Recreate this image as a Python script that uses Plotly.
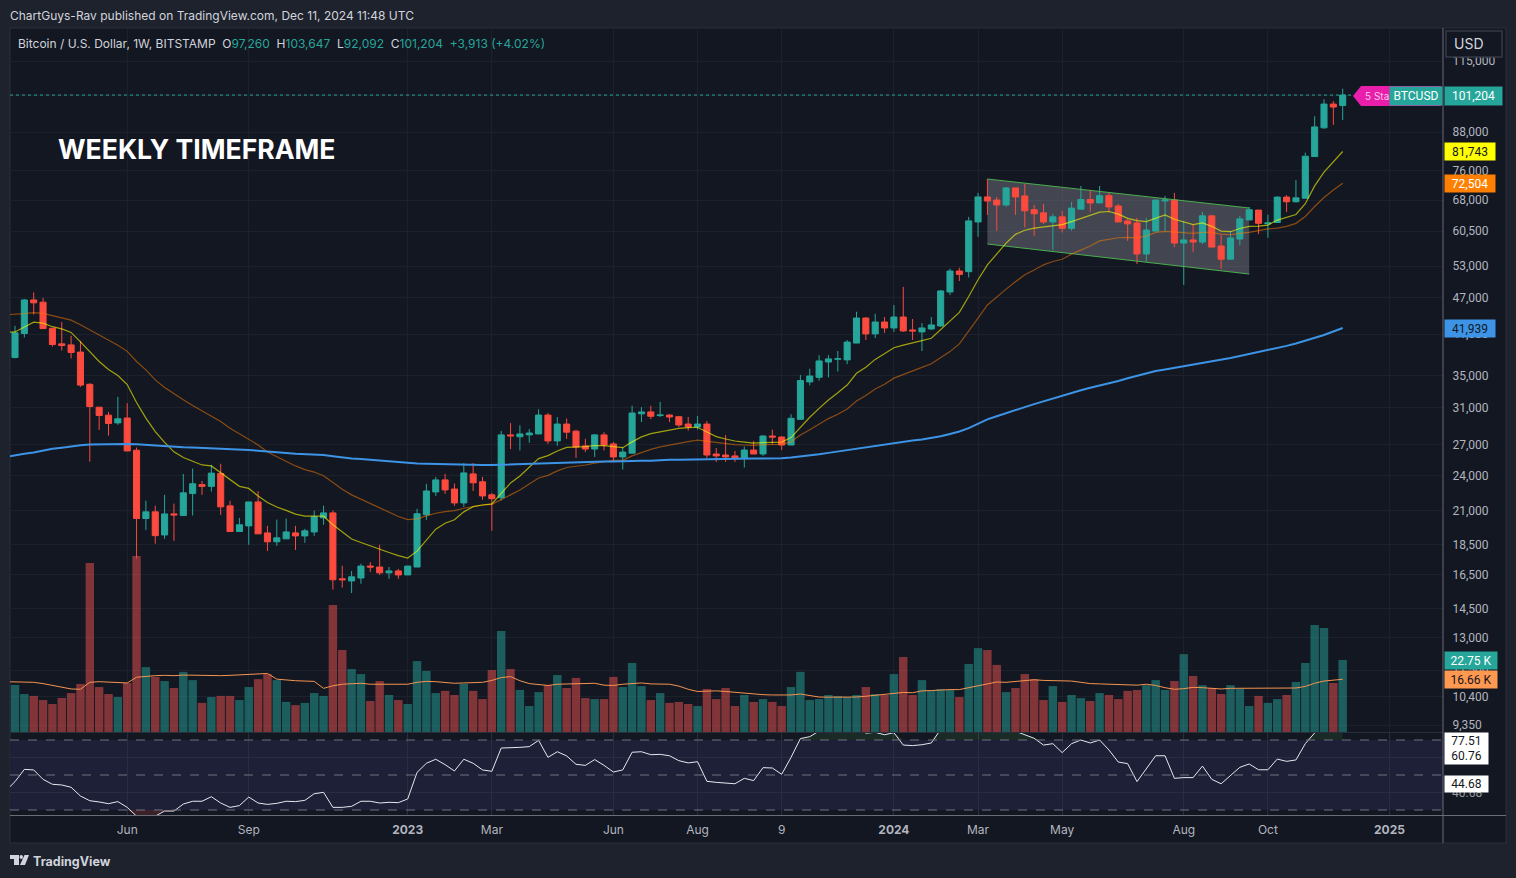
import math
import pandas as pd
import plotly.graph_objs as go

# Weekly BTCUSD candles
opens = [37520,41080,46640,46240,41900,39500,39350,38290,33900,31090,
    30170,29300,29840,26420,20410,20930,19180,20770,20640,22430,
    23200,23050,24200,21410,19430,19850,21730,19330,18690,18900,
    19330,19110,19400,20460,20850,16250,16120,16300,17050,16990,
    16620,16740,16490,16990,20700,22570,23620,22820,21650,24160,
    23450,22320,22080,28000,27800,28000,28100,30180,27370,29170,
    28400,26860,26540,28000,27060,25760,26130,30320,30540,30120,
    30180,29990,29170,28860,29170,26050,25950,25860,25660,26440,
    26050,27880,27770,26950,29700,34210,34810,36880,37280,37180,
    39620,43550,41020,42900,41950,43720,41630,41330,41790,42270,
    48070,52030,51900,62630,68850,68050,66790,71230,69110,65600,
    64820,62630,63850,61130,65730,68180,67300,69180,66540,62880,
    62400,55490,60500,67800,68050,57830,58510,58050,64090,57190,
    54410,58720,63110,65500,62200,62500,68800,67600,68500,80200,
    89400,97800,97260]
highs = [42290,46810,47990,46990,41950,42880,40730,39950,34040,31090,
    30540,32320,31570,26690,21830,21420,22320,21590,24150,24650,
    23520,25000,25100,21830,20460,21730,22630,19850,20330,20410,
    19850,19630,21030,21420,21030,17070,16740,17200,17310,18480,
    16990,16870,17050,21170,23270,23890,24160,23300,25170,25170,
    23890,22490,28430,29270,29030,28620,30850,30410,29950,29780,
    28550,27580,28100,28290,27260,26750,31260,31100,31260,31720,
    30280,30060,29960,30080,29500,26650,27980,26350,26790,27370,
    27980,28560,27880,30270,35130,35960,37850,37850,38450,40080,
    44590,43720,44250,43720,45750,48990,43390,42740,43720,48430,
    52500,52690,63850,69920,73670,68850,71490,71230,72300,66790,
    67040,64590,65320,67550,71760,70700,71760,69960,67040,63360,
    63600,63600,68050,69100,69920,62880,61970,65040,64330,59640,
    60560,64090,66290,65500,64400,69000,69300,73380,81400,93400,
    99600,98900,103647]
lows = [37400,40470,44120,41800,39100,38530,37380,33570,25310,28530,
    27930,29090,26380,17540,19550,18550,18900,18760,20640,20640,
    22320,22600,20690,19430,19430,18480,19260,18050,18410,18900,
    18120,18620,19110,19930,15600,15720,15400,15950,16680,16490,
    16250,16250,16490,16990,20300,22230,22400,21410,21320,22650,
    21910,19480,21840,26540,26400,27180,28100,27060,26870,27580,
    25660,26240,25760,26400,25260,24560,26130,29390,29720,29960,
    29390,28830,28450,28560,25660,25280,25280,25280,24750,26050,
    25860,27060,26440,26950,29700,33760,34380,34810,35580,36580,
    39620,40080,40380,41180,41330,41330,40080,38450,41630,42120,
    47530,50100,50770,59190,64330,60550,66380,64330,61350,59410,
    62170,56340,60200,60560,65730,65060,67300,65060,62630,58300,
    53410,53980,60500,60500,56950,49370,55930,57600,56950,52440,
    54410,57340,63110,59800,59000,62500,65000,67400,68500,80200,
    89100,90400,92092]
closes = [41180,46640,46130,41850,39400,39250,38240,33800,31170,30130,
    29240,29760,26350,20410,20930,19130,20770,20690,22490,23280,
    23050,24230,21330,19430,19930,21730,19260,18690,18970,19400,
    19110,19480,20540,20850,16190,16190,16370,17050,16990,16620,
    16740,16490,17050,20780,22650,23620,22740,21650,24250,23360,
    22230,22000,28000,27900,28100,28200,30180,27370,29170,28290,
    26750,26540,28000,26950,25760,26240,30410,30540,30040,30180,
    29960,29070,28860,29170,25950,25860,25760,25660,26440,26050,
    27880,27770,26950,29810,34380,34980,37030,37320,37340,39770,
    43550,41020,42900,41950,43720,41480,41480,41950,42430,48250,
    52030,51370,62880,68850,67800,66790,71230,68850,65320,64590,
    62630,63850,61130,65990,68180,67300,69180,66290,62630,62170,
    55490,60740,68050,68050,57830,58510,58050,64090,56950,54410,
    58960,63360,65600,62300,62400,68800,67600,68600,80300,89700,
    97800,96700,101204]

# Volume in thousands
volumes = [14.85,12.0,11.4,10.1,8.85,10.75,12.3,15.2,53.4,14.2,
    12.0,11.05,15.5,55.6,20.5,17.4,16.1,13.9,19.0,16.4,
    9.2,11.05,11.4,11.4,10.1,14.2,16.7,18.3,16.4,9.5,
    8.5,9.2,12.3,11.4,40.1,25.9,19.9,18.3,9.8,16.1,
    11.7,10.1,8.85,22.4,19.3,12.3,13.0,11.7,15.2,13.0,
    10.4,19.6,31.9,19.9,13.3,8.2,12.6,14.8,18.0,13.9,
    17.1,10.7,10.4,10.4,17.4,14.2,21.8,14.5,10.1,12.3,
    9.2,9.5,8.85,8.2,13.6,10.4,13.9,8.2,11.7,9.5,
    10.4,9.5,8.2,14.2,19.0,10.1,10.4,11.7,11.4,11.05,
    11.7,14.2,12.0,11.7,18.3,23.7,11.7,16.4,13.0,13.6,
    13.3,11.05,21.5,26.5,25.9,21.2,12.6,13.9,18.3,16.7,
    10.1,14.5,9.5,11.7,10.7,9.8,12.3,11.7,10.4,13.0,
    13.3,14.8,16.4,13.3,16.1,24.6,17.7,14.8,13.9,12.0,
    14.8,13.6,8.2,11.4,9.2,10.4,11.7,15.8,21.8,33.8,
    32.9,15.5,22.75]

# The indicator lists start one week earlier, they run in from off the left edge
volume_ma = [15.9,
    15.9,15.8,15.7,15.3,14.7,14.1,13.6,13.5,15.7,15.9,
    15.8,15.6,15.5,17.3,17.6,17.8,17.9,17.8,18.0,17.9,
    17.8,17.8,17.8,17.9,18.1,18.3,18.5,18.5,16.7,16.4,
    16.2,16.1,16.0,13.8,14.6,15.1,15.3,15.4,15.1,15.1,
    15.1,15.1,15.1,15.7,16.0,15.9,15.6,15.4,15.5,15.5,
    15.7,16.3,17.2,17.5,16.2,15.3,15.0,14.7,15.1,15.2,
    15.4,15.4,15.4,14.8,14.7,15.1,15.4,15.5,15.2,15.2,
    15.1,14.5,13.5,12.8,13.0,13.0,12.8,12.5,12.3,12.1,
    11.8,11.7,11.6,11.7,12.0,11.6,11.05,11.0,11.0,11.0,
    11.05,11.3,11.6,11.7,12.0,12.5,12.4,13.0,13.1,13.3,
    13.4,13.4,14.0,14.6,15.1,15.8,15.7,15.9,16.3,16.5,
    16.3,16.2,16.1,16.1,15.7,15.3,15.2,15.1,15.0,14.8,
    14.8,15.1,14.7,14.0,13.5,13.7,14.1,14.0,13.7,13.6,
    13.8,13.8,13.8,13.7,13.7,13.7,13.7,13.9,14.4,15.4,
    16.1,16.4,16.66]
ma_yellow = [41300,
    41320,42090,42880,42730,42150,41800,41250,39810,38400,36950,
    35850,35040,33870,31650,29840,28350,27210,26260,25700,25310,
    24990,24900,24260,23620,23050,22870,22230,21690,21320,21050,
    20750,20600,20590,20590,19930,19430,18890,18640,18390,18160,
    17950,17740,17580,18040,18820,19600,20050,20310,20930,21350,
    21480,21570,22440,23350,23970,24780,25600,25890,26350,26710,
    26710,26780,26900,26880,26780,26680,27270,27790,28130,28320,
    28570,28700,28780,28820,28300,27820,27570,27360,27250,27150,
    27190,27220,27250,27720,28820,29930,30950,31950,32840,33800,
    35340,36160,37250,38040,38930,39310,39690,39990,40340,41730,
    43040,44500,47250,50340,53260,55500,57800,59760,60700,61180,
    61400,61700,62000,62700,63400,64100,65000,65150,64500,63500,
    62950,62700,63500,64300,63270,62550,61990,62400,61600,60500,
    60360,61100,61600,61650,61900,63080,63700,64430,67100,71780,
    75600,78700,81743]
ma_orange = [44100,
    44150,44280,44460,44340,43950,43580,43210,42450,41640,40770,
    40100,39300,38400,36950,35810,34470,33500,32700,31970,31280,
    30670,30130,29450,28710,28100,27570,26960,26240,25760,25310,
    24900,24550,24330,24000,23400,22800,22320,21960,21560,21220,
    20880,20570,20330,20380,20610,20820,20950,21030,21220,21380,
    21480,21530,21900,22320,22740,23230,23790,24030,24440,24750,
    24860,24990,25170,25330,25430,25430,25860,26180,26510,26760,
    26960,27150,27300,27440,27330,27190,27090,26990,26950,26920,
    26990,27020,27020,27300,28000,28560,29150,29780,30270,30880,
    31830,32500,33300,33920,34700,35210,35700,36150,36630,37480,
    38360,39500,41380,43550,45750,47200,48580,49950,51300,52240,
    53260,53940,54400,55450,56300,57200,58300,58700,59000,59100,
    58950,59400,60200,60450,60300,60050,59980,60200,60200,59820,
    59670,59980,60200,60600,61000,61200,61600,62300,63940,66400,
    68700,70650,72504]
ma_blue = [25760,
    25940,26070,26200,26400,26570,26680,26820,26930,26990,27020,
    27050,27050,27050,27020,26950,26890,26820,26790,26720,26690,
    26660,26630,26600,26530,26500,26440,26370,26270,26200,26140,
    26070,26040,26000,25940,25830,25710,25610,25560,25480,25400,
    25300,25260,25160,25130,25100,25070,25070,25040,25010,25010,
    24980,24980,25010,25070,25100,25130,25160,25190,25220,25220,
    25240,25260,25300,25320,25320,25320,25350,25380,25400,25470,
    25490,25500,25520,25550,25550,25580,25580,25580,25580,25610,
    25610,25610,25640,25710,25800,25900,26030,26160,26300,26430,
    26560,26700,26830,27000,27130,27270,27410,27510,27650,27860,
    28100,28360,28720,29170,29690,30050,30370,30730,31100,31450,
    31800,32150,32480,32810,33150,33460,33730,34000,34330,34680,
    35030,35350,35650,35860,36070,36290,36510,36730,36950,37200,
    37450,37720,38000,38300,38600,38900,39200,39550,39950,40350,
    40850,41400,41939]

# RSI pane (the line runs off the pane at both ends)
rsi = [40.9,
    46.2,53.2,52.9,47.5,44.7,44.3,43.0,38.0,35.3,34.6,
    33.6,34.8,31.5,26.5,26.5,26.5,29.4,29.4,33.4,35.0,
    35.0,37.6,34.0,31.5,32.5,37.4,34.0,33.2,33.8,35.0,
    34.8,35.5,39.3,40.1,31.5,31.5,32.1,35.0,35.0,34.0,
    34.4,34.2,36.3,51.5,56.7,59.0,55.9,52.3,59.0,56.7,
    52.9,52.1,65.4,65.4,65.8,66.2,69.8,60.1,63.3,60.9,
    56.1,55.5,58.8,55.5,51.7,52.9,63.0,63.3,61.6,61.8,
    61.0,58.2,56.9,57.6,46.4,45.8,45.4,45.0,48.1,46.8,
    54.2,54.0,50.4,60.1,70.8,71.9,75.1,75.5,75.8,77.0,
    79.0,73.9,74.4,73.0,74.2,67.1,66.8,67.3,68.3,76.0,
    80.0,80.0,83.0,85.0,86.0,82.0,78.0,75.0,72.9,71.0,
    67.1,67.9,62.8,67.9,70.0,68.3,70.0,64.3,57.4,56.5,
    46.2,53.4,61.0,61.0,48.1,48.5,48.5,55.1,47.5,45.0,
    49.8,54.4,56.3,53.0,53.0,59.1,57.8,58.6,67.9,74.0,
    78.5,77.0,77.51]

price_ticks = [115000,101000,88000,76000,68000,60500,53000,47000,41000,35000,31000,
    27000,24000,21000,18500,16500,14500,13000,11500,10400,9350]
time_ticks = ['2022-06-06','2022-09-05','2023-01-02','2023-03-06','2023-06-05','2023-08-07',
    '2023-10-09','2024-01-01','2024-03-04','2024-05-06','2024-08-05','2024-10-07','2025-01-06']
time_labels = ['Jun','Sep','<b>2023</b>','Mar','Jun','Aug','9','<b>2024</b>','Mar','May','Aug','Oct','<b>2025</b>']

# Bull flag drawn on the chart
flag_dates = ['2024-03-11','2024-09-23','2024-09-23','2024-03-11','2024-03-11']
flag_prices = [73670,66030,51440,57620,73670]

W, H = 1516, 878
FONT = 'Inter, Roboto, sans-serif'
SCALE_FONT = 'Roboto, Inter, sans-serif'
TEAL, RED = '#26a69a', '#fb4a3e'
BG, PAGE = '#131722', '#1e222d'
GRID = '#1d212c'
AXIS_TEXT = '#b2b5be'


def px(x):
    return x / W


def py(y):
    return 1 - y / H


def box(x0, y0, x1, y1):
    return f'M{px(x0)},{py(y0)} L{px(x1)},{py(y0)} L{px(x1)},{py(y1)} L{px(x0)},{py(y1)} Z'


dates = pd.date_range('2022-03-14', periods=len(closes), freq='7D')
line_dates = pd.date_range('2022-03-07', periods=len(closes) + 1, freq='7D')
week = pd.Timedelta(weeks=1)
# first candle sits 5 px in from the pane edge, candles are 9.35 px apart
x_range = [dates[0] + week * ((10 - 15) / 9.35), dates[0] + week * ((1443 - 15) / 9.35)]

# price scale: 88,000 at y=132, 264.5 px per e-fold
price_top = 88000 * math.exp((132 - 28) / 264.5)
price_bottom = 88000 * math.exp((132 - 732) / 264.5)
price_range = [math.log10(price_bottom), math.log10(price_top)]

bar_colors = ['rgba(38,166,154,0.5)' if c >= o else 'rgba(239,83,80,0.5)' for o, c in zip(opens, closes)]

fig = go.Figure()

# Flag fill goes on the bottom axis so the candles stay above it
fig.add_trace(go.Scatter(x=flag_dates, y=flag_prices, mode='lines', fill='toself',
    fillcolor='rgba(140,142,150,0.40)', line=dict(width=0), xaxis='x', yaxis='y'))

fig.add_trace(go.Bar(x=dates, y=volumes, marker=dict(color=bar_colors, line=dict(width=0)),
    xaxis='x', yaxis='y2'))
fig.add_trace(go.Scatter(x=line_dates, y=volume_ma, mode='lines', line=dict(color='#f59450', width=1),
    xaxis='x', yaxis='y2'))

fig.add_trace(go.Candlestick(x=dates, open=opens, high=highs, low=lows, close=closes,
    increasing=dict(line=dict(color=TEAL, width=1), fillcolor=TEAL),
    decreasing=dict(line=dict(color=RED, width=1), fillcolor=RED),
    whiskerwidth=0, xaxis='x', yaxis='y3'))

fig.add_trace(go.Scatter(x=flag_dates[:2], y=flag_prices[:2], mode='lines',
    line=dict(color='#4caf50', width=1), xaxis='x', yaxis='y3'))
fig.add_trace(go.Scatter(x=flag_dates[2:4], y=flag_prices[2:4], mode='lines',
    line=dict(color='#4caf50', width=1), xaxis='x', yaxis='y3'))

fig.add_trace(go.Scatter(x=line_dates, y=ma_orange, mode='lines', line=dict(color='rgba(255,127,0,0.5)', width=1.2),
    xaxis='x', yaxis='y3'))
fig.add_trace(go.Scatter(x=line_dates, y=ma_yellow, mode='lines', line=dict(color='rgba(255,255,0,0.6)', width=1.2),
    xaxis='x', yaxis='y3'))
fig.add_trace(go.Scatter(x=line_dates, y=ma_blue, mode='lines', line=dict(color='#3d94e6', width=2),
    xaxis='x', yaxis='y3'))

# Last price line
fig.add_trace(go.Scatter(x=[x_range[0], dates[-1] + week], y=[closes[-1], closes[-1]], mode='lines',
    line=dict(color=TEAL, width=1, dash='dot'), xaxis='x', yaxis='y3'))

# RSI with the overbought and oversold tint
fig.add_trace(go.Scatter(x=line_dates, y=[70] * len(rsi), mode='lines', line=dict(width=0), xaxis='x2', yaxis='y4'))
fig.add_trace(go.Scatter(x=line_dates, y=[max(r, 70) for r in rsi], mode='lines', line=dict(width=0),
    fill='tonexty', fillcolor='rgba(76,175,80,0.13)', xaxis='x2', yaxis='y4'))
fig.add_trace(go.Scatter(x=line_dates, y=[30] * len(rsi), mode='lines', line=dict(width=0), xaxis='x2', yaxis='y4'))
fig.add_trace(go.Scatter(x=line_dates, y=[min(r, 30) for r in rsi], mode='lines', line=dict(width=0),
    fill='tonexty', fillcolor='rgba(255,82,82,0.18)', xaxis='x2', yaxis='y4'))
fig.add_trace(go.Scatter(x=line_dates, y=rsi, mode='lines', line=dict(color='#e6e8ee', width=1), xaxis='x2', yaxis='y4'))

shapes = [
    # chart frame
    dict(type='path', path=box(10, 28, 1506, 843), xref='paper', yref='paper', fillcolor=BG,
         line=dict(color='#2a2e39', width=1), layer='below'),
    # RSI band and levels
    dict(type='rect', xref='x2', yref='y4', x0=x_range[0], x1=x_range[1], y0=30, y1=70,
         fillcolor='#1e2038', line=dict(width=0), layer='below'),
]
for level in [70, 50, 30]:
    shapes.append(dict(type='line', xref='x2', yref='y4', x0=x_range[0], x1=x_range[1], y0=level, y1=level,
                       line=dict(color='#70737f', width=1, dash='dash')))
for level in [60, 40]:
    shapes.append(dict(type='line', xref='x2', yref='y4', x0=x_range[0], x1=x_range[1], y0=level, y1=level,
                       line=dict(color='#2a2d42', width=1), layer='below'))
shapes += [
    # pane separators and scale borders
    dict(type='line', xref='paper', yref='paper', x0=px(10), x1=px(1443), y0=py(732.5), y1=py(732.5),
         line=dict(color='#2a2e39', width=1)),
    dict(type='line', xref='paper', yref='paper', x0=px(10), x1=px(1506), y0=py(815.5), y1=py(815.5),
         line=dict(color='#6a6d78', width=1)),
    dict(type='line', xref='paper', yref='paper', x0=px(1443), x1=px(1443), y0=py(28), y1=py(843),
         line=dict(color='#6a6d78', width=1)),
    # USD button
    dict(type='path', path=box(1446, 31, 1502, 57), xref='paper', yref='paper', fillcolor=BG,
         line=dict(color='#363a45', width=1.5)),
    # alert flag
    dict(type='path', xref='paper', yref='paper', fillcolor='#e91eaa', line=dict(width=0),
         path=f'M{px(1353)},{py(96)} L{px(1361)},{py(86)} L{px(1441)},{py(86)} L{px(1441)},{py(106)} L{px(1361)},{py(106)} Z'),
    # TradingView mark
    dict(type='path', xref='paper', yref='paper', fillcolor='#d1d4dc', line=dict(width=0),
         path=f'M{px(10)},{py(855)} L{px(19)},{py(855)} L{px(19)},{py(865)} L{px(14)},{py(865)} L{px(14)},{py(859)} L{px(10)},{py(859)} Z'),
    dict(type='circle', xref='paper', yref='paper', x0=px(19.5), x1=px(23), y0=py(855), y1=py(859),
         fillcolor='#d1d4dc', line=dict(width=0)),
    dict(type='path', xref='paper', yref='paper', fillcolor='#d1d4dc', line=dict(width=0),
         path=f'M{px(24.5)},{py(855)} L{px(29)},{py(855)} L{px(25)},{py(865)} L{px(20)},{py(865)} Z'),
]


def label(text, x, y, color='#d1d4dc', size=12, anchor='left', family=FONT):
    return dict(text=text, x=px(x), y=py(y), xref='paper', yref='paper', xanchor=anchor, yanchor='middle',
                showarrow=False, font=dict(family=family, size=size, color=color))


def scale_box(text, y, bg, color, x0=1444, width=50, height=17):
    return dict(text=text, x=px(x0), y=py(y), xref='paper', yref='paper', xanchor='left', yanchor='middle',
                showarrow=False, width=width, height=height, bgcolor=bg, borderpad=0, align='center',
                font=dict(family=SCALE_FONT, size=12, color=color))


up = TEAL
legend = (f'Bitcoin / U.S. Dollar, 1W, BITSTAMP  O<span style="color:{up}">97,260</span>  '
          f'H<span style="color:{up}">103,647</span>  L<span style="color:{up}">92,092</span>  '
          f'C<span style="color:{up}">101,204</span>  <span style="color:{up}">+3,913 (+4.02%)</span>')

annotations = [
    label('ChartGuys-Rav published on TradingView.com, Dec 11, 2024 11:48 UTC', 8, 15),
    label(legend, 16, 43),
    dict(text='<b>WEEKLY TIMEFRAME</b>', x=px(56), y=py(149), xref='paper', yref='paper', xanchor='left',
         yanchor='middle', showarrow=False, font=dict(family=FONT, size=26.6, color='#ffffff')),
    label('USD', 1469, 44, size=14, anchor='center'),
    label('5 Sta', 1363, 96, color='#f6c6e6', size=10),
    scale_box('BTCUSD', 96, TEAL, '#ffffff', x0=1389, width=52, height=18),
    scale_box('101,204', 96, TEAL, '#ffffff', width=57, height=18),
    scale_box('81,743', 151.5, '#ffff00', '#131722'),
    scale_box('72,504', 183.5, '#ff7f00', '#ffffff'),
    scale_box('41,939', 328.5, '#3d94e6', '#131722'),
    scale_box('22.75 K', 660, TEAL, '#ffffff', width=52),
    scale_box('16.66 K', 679, '#ff9850', '#131722', width=52),
    scale_box('77.51<br>60.76', 748.5, '#ffffff', '#131722', width=43, height=31),
    label('40.68', 1450, 793, color='#9598a1', family=SCALE_FONT),
    scale_box('44.68', 784, '#ffffff', '#131722', width=43, height=16),
    label('<b>TradingView</b>', 31, 861, size=12.5),
]

axis_off = dict(showgrid=False, zeroline=False, showticklabels=False, showline=False, ticks='')

fig.update_layout(
    width=W,
    height=H,
    autosize=False,
    margin=dict(l=0, r=0, t=0, b=0),
    paper_bgcolor=PAGE,
    plot_bgcolor=BG,
    showlegend=False,
    bargap=0.1,
    boxgap=0.35,
    boxgroupgap=0,
    hovermode=False,
    xaxis=dict(domain=[px(10), px(1443)], anchor='y', type='date', range=x_range, rangeslider=dict(visible=False),
               tickvals=time_ticks, showticklabels=False, showgrid=True, gridcolor=GRID, gridwidth=1,
               zeroline=False, ticks=''),
    xaxis2=dict(domain=[px(10), px(1443)], anchor='y4', type='date', range=x_range, tickvals=time_ticks,
                ticktext=time_labels, showgrid=True, gridcolor='#2a2d42', gridwidth=1, zeroline=False,
                ticks='outside', ticklen=4, tickcolor='rgba(0,0,0,0)',
                tickfont=dict(family=FONT, size=12, color=AXIS_TEXT)),
    yaxis=dict(domain=[py(732), py(28)], anchor='x', type='log', range=price_range, **axis_off),
    yaxis2=dict(overlaying='y', anchor='x', range=[0, (732 - 28) * 0.316], **axis_off),
    yaxis3=dict(overlaying='y', anchor='x', side='right', type='log', range=price_range, tickvals=price_ticks,
                ticktext=[f'{v:,}' for v in price_ticks], showgrid=True, gridcolor=GRID, gridwidth=1,
                zeroline=False, ticks='outside', ticklen=6, tickcolor='rgba(0,0,0,0)',
                tickfont=dict(family=SCALE_FONT, size=12, color=AXIS_TEXT)),
    yaxis4=dict(domain=[py(815), py(733)], anchor='x2', range=[27.14, 74], **axis_off),
    shapes=shapes,
    annotations=annotations,
)

fig.write_html("out.html", config={'displayModeBar': False},
               post_script="document.body.style.margin='0';document.documentElement.style.background='#1e222d';")
